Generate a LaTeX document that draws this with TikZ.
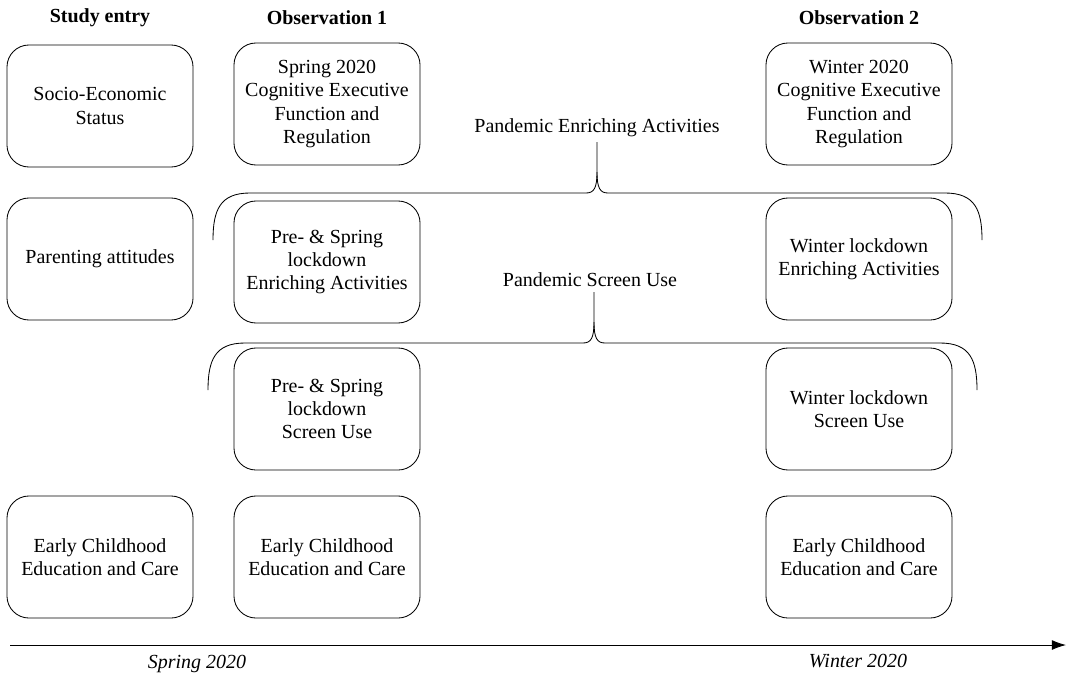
\documentclass[tikz,border=0pt]{standalone}
\usepackage{fontspec}
\setmainfont{Liberation Serif}
\usetikzlibrary{positioning}
\usetikzlibrary{arrows.meta}
\newcommand{\boxsize}{\fontsize{14.2}{16.4}\selectfont}
\tikzset{
    stagebox/.style={draw, line width=0.6pt, rounded corners=0.55cm, minimum width=4.65cm, minimum height=3.05cm, align=center, font=\boxsize},
    stagehead/.style={font=\boxsize\bfseries},
    datelabel/.style={font=\boxsize\itshape},
    bracelabel/.style={font=\boxsize},
    bracket/.style={line width=0.6pt},
}
\begin{document}
\begin{tikzpicture}[x=0.025cm, y=-0.025cm]
    \useasboundingbox (0,0) rectangle (1069,677);
    % column headers
    \node[stagehead] (hEntry) at (100,18) {Study entry};
    \node[stagehead] (hObsA) at (327,18) {Observation 1};
    \node[stagehead] (hObsB) at (859,18) {Observation 2};
    % study entry
    \node[stagebox] (ses) at (100,106) {Socio-Economic\\Status};
    \node[stagebox] (par) at (100,259) {Parenting attitudes};
    \node[stagebox] (ecA) at (100,557) {Early Childhood\\Education and Care};
    % observation 1
    \node[stagebox] (cefA) at (327,104) {Spring 2020\\Cognitive Executive\\Function and\\Regulation};
    \node[stagebox] (enrA) at (327,262) {Pre- \& Spring\\lockdown\\Enriching Activities};
    \node[stagebox] (scrA) at (327,409) {Pre- \& Spring\\lockdown\\Screen Use};
    \node[stagebox] (ecB) at (327,557) {Early Childhood\\Education and Care};
    % observation 2
    \node[stagebox] (cefB) at (859,104) {Winter 2020\\Cognitive Executive\\Function and\\Regulation};
    \node[stagebox] (enrB) at (859,259) {Winter lockdown\\Enriching Activities};
    \node[stagebox] (scrB) at (859,409) {Winter lockdown\\Screen Use};
    \node[stagebox] (ecC) at (859,557) {Early Childhood\\Education and Care};
    % braces
    \node[bracelabel] (pEnr) at (597,128) {Pandemic Enriching Activities};
    \draw[bracket] (213,240) .. controls (213,210) and (220,193) .. (250,193) -- (586,193)
        .. controls (594,193) and (597,188) .. (597,172) -- (pEnr.south -| 597,0);
    \draw[bracket] (982,240) .. controls (982,210) and (975,193) .. (945,193) -- (608,193)
        .. controls (600,193) and (597,188) .. (597,172);
    \node[bracelabel] (pScr) at (590,280) {Pandemic Screen Use};
    \draw[bracket] (208,390) .. controls (208,360) and (215,343) .. (245,343) -- (583,343)
        .. controls (591,343) and (594,338) .. (594,322) -- (594,292);
    \draw[bracket] (977,390) .. controls (977,360) and (970,343) .. (940,343) -- (605,343)
        .. controls (597,343) and (594,338) .. (594,322);
    % time line
    \coordinate (tStart) at (10,645);
    \coordinate (tEnd) at (1066,645);
    \draw[line width=0.6pt, -{Latex[length=10pt,width=7pt]}] (tStart) -- (tEnd);
    \node[datelabel] (dSpring) at (197,664) {Spring 2020};
    \node[datelabel] (dWinter) at (858,661) {Winter 2020};
\end{tikzpicture}
\end{document}
